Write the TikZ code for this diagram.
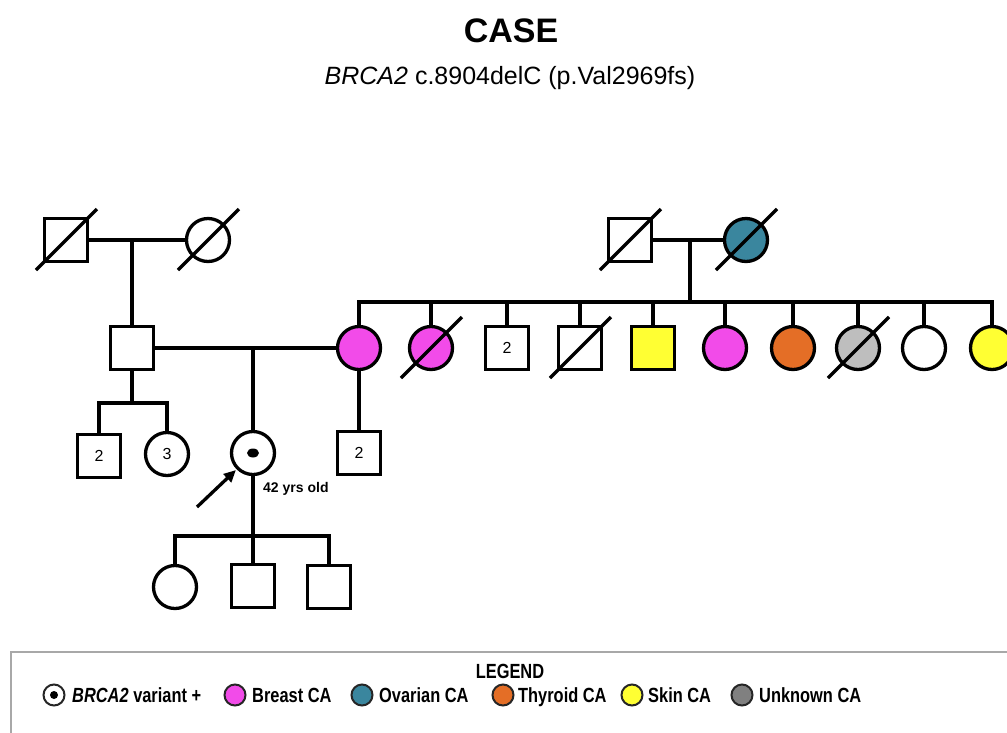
\documentclass[tikz,border=0pt]{standalone}
\usepackage{fontspec}
\setmainfont{Liberation Sans}
\newfontfamily\narrowfont[FakeStretch=0.8]{Liberation Sans}
\usetikzlibrary{arrows.meta}
\definecolor{breast}{HTML}{F24BE9}
\definecolor{ovarian}{HTML}{3A869E}
\definecolor{thyroid}{HTML}{E46E26}
\definecolor{skin}{HTML}{FFFF33}
\definecolor{unkped}{HTML}{BEBEBE}
\definecolor{unkleg}{HTML}{808080}
\definecolor{legframe}{HTML}{A8A8A8}
\begin{document}
\begin{tikzpicture}[x=1pt,y=-1pt,
  ln/.style={line width=3.3pt},
  male/.style={draw, line width=3.3pt, rectangle, minimum size=43pt, inner sep=0pt, fill=white,
    font=\fontsize{16}{16}\selectfont},
  female/.style={draw, line width=3.3pt, circle, minimum size=43pt, inner sep=0pt, fill=white,
    font=\fontsize{16}{16}\selectfont},
  legsym/.style={draw=black!85, line width=2pt, circle, minimum size=21pt, inner sep=0pt},
  legtext/.style={anchor=base west, inner sep=0pt, font=\narrowfont\bfseries\fontsize{20.5}{22}\selectfont},
]
\useasboundingbox (0,0) rectangle (1007,732);
\newcommand{\deceased}[1]{\draw[ln] (#1.center) ++(-30,30) -- ++(61,-61);}

% titles
\node[font=\bfseries\fontsize{34}{40}\selectfont] (title) at (511,31) {CASE};
\node[font=\fontsize{25}{30}\selectfont] (sub) at (510,78) {\textit{BRCA2} c.8904delC (p.Val2969fs)};

% paternal grandparents
\node[male] (pgf) at (66,240) {};
\node[female] (pgm) at (208,240) {};
\deceased{pgf}
\deceased{pgm}
\coordinate (pcm) at (132,240);

% father
\node[male] (fa) at (132,348) {};

% maternal grandparents
\node[male] (mgf) at (630,240) {};
\node[female, fill=ovarian] (mgm) at (746,240) {};
\deceased{mgf}
\deceased{mgm}
\coordinate (mcm) at (690,240);
\coordinate (msib) at (690,302);

% maternal sibship
\node[female, fill=breast] (c1) at (359,348) {};
\node[female, fill=breast] (c2) at (431,348) {};
\node[male] (c3) at (507,348) {2};
\node[male] (c4) at (580,348) {};
\node[male, fill=skin] (c5) at (653,348) {};
\node[female, fill=breast] (c6) at (725,348) {};
\node[female, fill=thyroid] (c7) at (793,348) {};
\node[female, fill=unkped] (c8) at (858,348) {};
\node[female] (c9) at (924,348) {};
\node[female, fill=skin] (c10) at (992,348) {};
\deceased{c2}
\deceased{c4}
\deceased{c8}

% father's other children
\node[male] (h1) at (99,456) {2};
\node[female] (h2) at (167,454) {3};
\coordinate (fsib) at (132,403);

% proband
\node[female] (pro) at (253,453) {};
\fill (pro.center) ellipse (6 and 4.5);
\coordinate (psib) at (253,347);
\node[font=\bfseries\fontsize{14}{16}\selectfont, anchor=west, inner sep=0pt] (age) at (263,489) {42 yrs old};
\coordinate (arrtail) at (197,507);

% mother's other child
\node[male] (hs) at (359,453) {2};

% proband's children
\coordinate (kidsib) at (253,536);
\node[female] (k1) at (175,587) {};
\node[male] (k2) at (253,586) {};
\node[male] (k3) at (329,587) {};

% connectors
\draw[ln] (pgf.east) -- (pgm.west);
\draw[ln] (pcm) -- (fa.north);
\draw[ln] (fa.east) -- (c1.west);
\draw[ln] (psib) -- (pro.north);
\draw[ln] (fa.south) -- (fsib);
\draw[ln] (h1.north) |- (fsib) -| (h2.north);
\draw[ln] (c1.south) -- (hs.north);
\draw[ln] (mgf.east) -- (mgm.west);
\draw[ln] (mcm) -- (msib);
\draw[ln] (c1.north) -- (c1.north |- msib) -- (c10.north |- msib) -- (c10.north);
\foreach \c in {c2,c3,c4,c5,c6,c7,c8,c9}{
  \draw[ln] (\c.north) -- (\c.north |- msib);
}
\draw[ln] (pro.south) -- (kidsib);
\draw[ln] (k1.north) |- (kidsib) -| (k3.north);
\draw[ln] (kidsib) -- (k2.north);
\draw[line width=3.3pt, -{Triangle[length=12pt,width=11pt]}, shorten >=1pt] (arrtail) -- (pro.225);

% legend
\draw[legframe, line width=1.6pt] (11,652) rectangle (1020,745);
\node[font=\narrowfont\bfseries\fontsize{20.5}{22}\selectfont] (legtitle) at (510,671) {LEGEND};
\node[legsym, fill=white] (l1) at (54,695) {};
\fill (l1.center) circle (4);
\node[legtext] (t1) at (72,702) {\textit{BRCA2} variant +};
\node[legsym, fill=breast] (l2) at (235,695) {};
\node[legtext] (t2) at (252,702) {Breast CA};
\node[legsym, fill=ovarian] (l3) at (362,695) {};
\node[legtext] (t3) at (379,702) {Ovarian CA};
\node[legsym, fill=thyroid] (l4) at (503,695) {};
\node[legtext] (t4) at (518,702) {Thyroid CA};
\node[legsym, fill=skin] (l5) at (632,695) {};
\node[legtext] (t5) at (648,702) {Skin CA};
\node[legsym, fill=unkleg] (l6) at (742,695) {};
\node[legtext] (t6) at (759,702) {Unknown CA};
\end{tikzpicture}
\end{document}
